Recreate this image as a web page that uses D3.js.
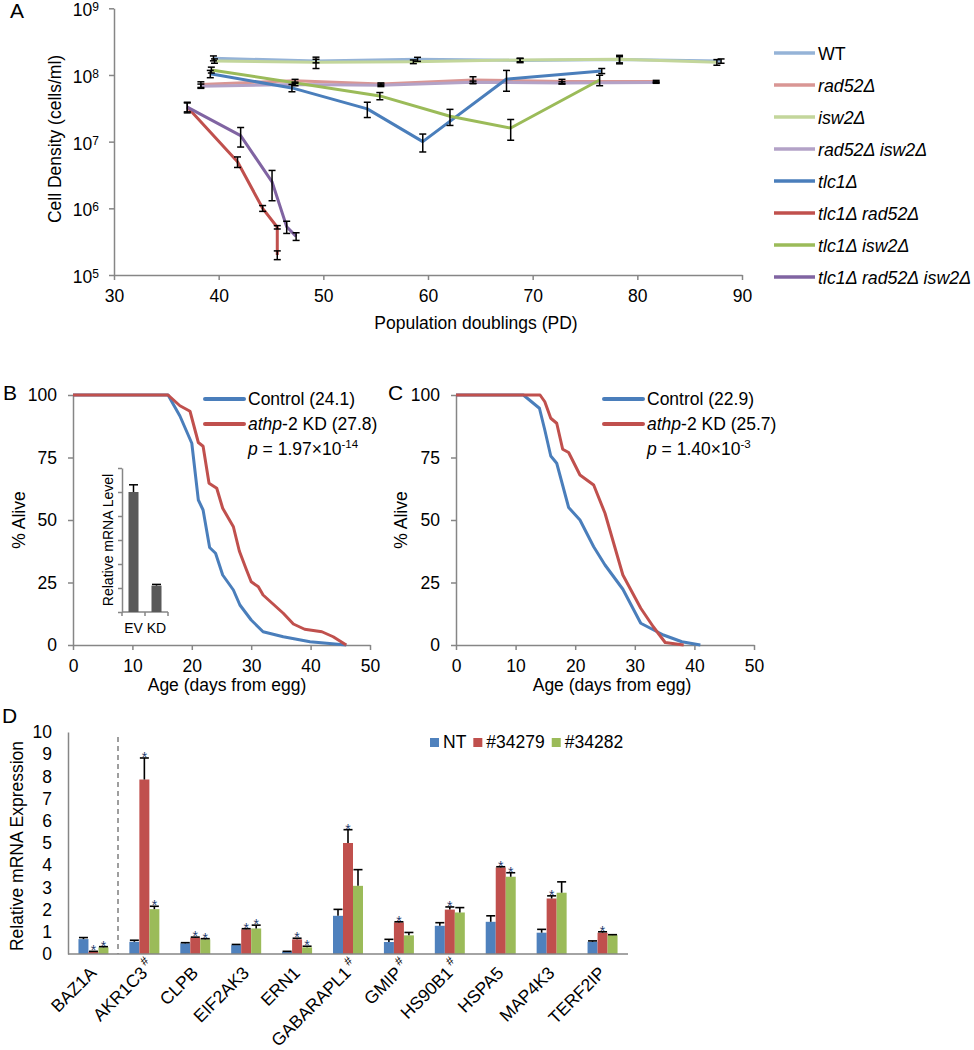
<!DOCTYPE html>
<html><head><meta charset="utf-8">
<script src="https://cdn.jsdelivr.net/npm/d3@7"></script>
<style>
body{margin:0;background:#fff}
svg{display:block}
text{font-family:"Liberation Sans",Arial,Helvetica,sans-serif;fill:#000}
</style>
</head><body>
<svg id="fig" width="974" height="1050"></svg>
<script>
// ================= DATA =================
// ---- Panel A: cell density vs population doublings ----
const strainsA = ["WT","rad52Δ","isw2Δ","rad52Δ isw2Δ","tlc1Δ","tlc1Δ rad52Δ","tlc1Δ isw2Δ","tlc1Δ rad52Δ isw2Δ"];
const pdTicksA = [30,40,50,60,70,80,90];
const densTicksA = [1e5,1e6,1e7,1e8,1e9];

const pdWT = [39.5,49.3,59.0,68.8,78.3,88.0];
const densWT = [1.78e8,1.62e8,1.72e8,1.65e8,1.70e8,1.62e8];
const errWT = [0.15e8,0.10e8,0.12e8,0.12e8,0.18e8,0.12e8];

const pdRad52 = [38.3,47.3,55.5,64.3,72.8,81.8];
const densRad52 = [7.2e7,8.2e7,7.3e7,8.4e7,8.0e7,8.0e7];
const errRad52 = [0.7e7,0.4e7,0.3e7,1.0e7,0.6e7,0.3e7];

const pdIsw2 = [39.6,49.3,58.6,68.8,78.3,87.6];
const densIsw2 = [1.62e8,1.55e8,1.58e8,1.68e8,1.72e8,1.55e8];
const errIsw2 = [0.12e8,0.30e8,0.10e8,0.10e8,0.25e8,0.15e8];

const pdRad52Isw2 = [38.3,47.3,55.5,64.3,72.8,81.8];
const densRad52Isw2 = [6.8e7,7.2e7,7.0e7,7.8e7,7.6e7,7.7e7];
const errRad52Isw2 = [0.5e7,0.3e7,0.3e7,0.3e7,0.3e7,0.2e7];

const pdTlc1 = [39.2,47.0,54.2,59.5,67.5,76.6];
const densTlc1 = [1.04e8,6.4e7,3.1e7,1.0e7,8.7e7,1.15e8];
const errTlc1 = [0.13e8,0.8e7,0.8e7,0.3e7,0.3e8,0.1e8];

const pdTlc1Rad52 = [37.0,41.8,44.2,45.6,45.6];
const densTlc1Rad52 = [3.3e7,5.0e6,1.0e6,5.2e5,2.0e5];
const errTlc1Rad52 = [0.6e7,0.9e6,0.1e6,0.3e5,0.3e5];

const pdTlc1Isw2 = [39.3,55.4,62.1,67.9,76.4];
const densTlc1Isw2 = [1.19e8,4.85e7,2.4e7,1.6e7,8.4e7];
const errTlc1Isw2 = [0.12e8,0.6e7,0.65e7,0.55e7,1.5e7];

const pdTriple = [37.0,42.1,45.1,46.5,47.4];
const densTriple = [3.3e7,1.23e7,2.5e6,5.3e5,3.8e5];
const errTriple = [0.5e7,0.4e7,1.2e6,1.1e5,0.5e5];

// ---- Panel B: survival ----
const daysCtrlB = [0,16,18,20,21.1,21.9,23,24,25.2,27,28.1,30,32,35.4,39.9,46];
const aliveCtrlB = [100,100,91.6,80.7,58,54,39,36.7,28,22,16,10,5.3,3.3,1.3,0];
const daysKdB = [0,16,18,19.7,21.1,21.9,22.9,24.2,25.2,27,28,29.1,30,31.2,32,35.4,37.1,39,41.9,43.8,46];
const aliveKdB = [100,100,95.7,93.5,81,79.5,64.7,62.7,54.7,47.3,37.6,30.7,25.3,23.3,20,12.7,8.4,6.3,5.3,3.3,0];
// inset
const insetCats = ["EV","KD"];
const insetVals = [1.0,0.22];
const insetErr = [0.06,0.01];
const insetTicks = [0,0.2,0.4,0.6,0.8,1.0,1.2];

// ---- Panel C: survival ----
const daysCtrlC = [0,11.3,14,14.9,15.9,16.9,18.9,20.8,23.1,25,28,31,34.8,37.9,41];
const aliveCtrlC = [100,100,94.7,86,75.6,72.7,55,50,39.3,32,22.3,8.7,4,1.3,0];
const daysKdC = [0,14.1,14.9,15.9,16.9,17.9,18.9,20.8,23.1,25,28,31,33.1,35.1,38.2];
const aliveKdC = [100,100,97.3,90.7,88.7,78.3,77,68,64,52.7,28,14.7,7.3,1,0];

const ageTicks = [0,10,20,30,40,50];
const aliveTicks = [0,25,50,75,100];

// ---- Panel D: relative mRNA expression ----
const genes = ["BAZ1A","AKR1C3","CLPB","EIF2AK3","ERN1","GABARAPL1","GMIP","HS90B1","HSPA5","MAP4K3","TERF2IP"];
const hashGene = [false,true,false,false,false,true,true,true,false,false,false];
const seriesD = ["NT","#34279","#34282"];
const valNT = [0.67,0.55,0.48,0.40,0.10,1.72,0.54,1.27,1.45,0.96,0.55];
const errNT = [0.07,0.07,0.03,0.03,0.02,0.29,0.12,0.14,0.27,0.15,0.04];
const val279 = [0.10,7.86,0.73,1.11,0.66,5.00,1.42,2.00,3.90,2.50,0.96];
const err279 = [0.02,0.97,0.03,0.03,0.05,0.60,0.03,0.12,0.03,0.12,0.04];
const val282 = [0.30,2.02,0.66,1.15,0.30,3.07,0.84,1.87,3.48,2.76,0.85];
const err282 = [0.03,0.13,0.03,0.15,0.05,0.73,0.13,0.22,0.18,0.49,0.02];
const starNT = [0,0,0,0,0,0,0,0,0,0,0];
const star279 = [1,1,1,1,1,1,1,1,1,1,1];
const star282 = [1,1,1,1,1,0,0,0,1,0,0];
const exprTicks = [0,1,2,3,4,5,6,7,8,9,10];

// ================= DRAWING =================
const svg = d3.select("#fig");
const AX = "#868686";
const FS = 17.5;
const FF = '"Liberation Sans",Arial,Helvetica,sans-serif';

function styleAxis(g, fs){
  g.attr("font-family", FF).attr("font-size", fs || FS);
  g.select(".domain").attr("stroke", AX).attr("stroke-width", 1.5);
  g.selectAll(".tick line").attr("stroke", AX).attr("stroke-width", 1.5);
  g.selectAll(".tick text").attr("fill", "#000");
}
function label(x, y, txt, opts){
  opts = opts || {};
  const t = svg.append("text").attr("x", x).attr("y", y)
    .attr("font-size", opts.fs || FS).attr("text-anchor", opts.anchor || "start").text(txt);
  if (opts.rot) t.attr("transform", `rotate(${opts.rot},${x},${y})`);
  return t;
}

// ---------- Panel A ----------
const colorsA = ["#95B3D7","#D99694","#C3D69B","#B3A2C7","#4A7EBB","#C0504D","#9BBB59","#8064A2"];
const pdA = [pdWT,pdRad52,pdIsw2,pdRad52Isw2,pdTlc1,pdTlc1Rad52,pdTlc1Isw2,pdTriple];
const densA = [densWT,densRad52,densIsw2,densRad52Isw2,densTlc1,densTlc1Rad52,densTlc1Isw2,densTriple];
const errA = [errWT,errRad52,errIsw2,errRad52Isw2,errTlc1,errTlc1Rad52,errTlc1Isw2,errTriple];

const xA = d3.scaleLinear().domain([30,90]).range([114,742]);
const yA = d3.scaleLog().domain([1e5,1e9]).range([275,8.3]);

svg.append("g").attr("transform","translate(0,275)")
  .call(d3.axisBottom(xA).tickValues(pdTicksA).tickSize(5).tickSizeOuter(0).tickPadding(10))
  .call(g=>styleAxis(g));
svg.append("g").attr("transform","translate(114,0)")
  .call(d3.axisLeft(yA).tickValues(densTicksA).tickSize(5).tickSizeOuter(0).tickFormat(()=>""))
  .call(g=>styleAxis(g));
densTicksA.forEach(v=>{
  const t = svg.append("text").attr("x",99).attr("y",yA(v)+8).attr("text-anchor","end").attr("font-size",FS);
  t.append("tspan").text("10");
  t.append("tspan").attr("font-size",12).attr("dy",-5).text(Math.round(Math.log10(v)));
});

const lineA = d3.line().x(d=>xA(d[0])).y(d=>yA(d[1]));
strainsA.forEach((s,i)=>{
  const pts = pdA[i].map((p,j)=>[p,densA[i][j]]);
  svg.append("path").attr("d",lineA(pts)).attr("fill","none")
    .attr("stroke",colorsA[i]).attr("stroke-width",3).attr("stroke-linejoin","round");
});
strainsA.forEach((s,i)=>{
  pdA[i].forEach((p,j)=>{
    const x = xA(p), y1 = yA(densA[i][j]+errA[i][j]), y2 = yA(Math.max(densA[i][j]-errA[i][j],1.01e5));
    const g = svg.append("g").attr("stroke","#000").attr("stroke-width",1.5);
    g.append("line").attr("x1",x).attr("x2",x).attr("y1",y1).attr("y2",y2);
    g.append("line").attr("x1",x-3.5).attr("x2",x+3.5).attr("y1",y1).attr("y2",y1);
    g.append("line").attr("x1",x-3.5).attr("x2",x+3.5).attr("y1",y2).attr("y2",y2);
  });
});
// legend A
strainsA.forEach((s,i)=>{
  const y = 53 + i*32;
  svg.append("line").attr("x1",774).attr("x2",815).attr("y1",y).attr("y2",y)
    .attr("stroke",colorsA[i]).attr("stroke-width",3.5);
  const t = label(818, y+6.5, s, {fs:17.8});
  if (i>0) t.attr("font-style","italic");
});
label(10, 18, "A", {fs:21});
label(55, 139, "Cell Density (cells/ml)", {anchor:"middle", rot:-90}).attr("dy","0.35em");
label(476, 329, "Population doublings (PD)", {anchor:"middle"});

// ---------- Panels B & C ----------
function survivalPanel(x0, x1, daysC, aliveC, daysK, aliveK, letter, letterX, legX, ctrlTxt, kdTxt, pMant, pExp, ylabX, titleX){
  const x = d3.scaleLinear().domain([0,50]).range([x0,x1]);
  const y = d3.scaleLinear().domain([0,100]).range([645,395]);
  svg.append("g").attr("transform","translate(0,645)")
    .call(d3.axisBottom(x).tickValues(ageTicks).tickSize(5).tickSizeOuter(0).tickPadding(9.5))
    .call(g=>styleAxis(g));
  svg.append("g").attr("transform",`translate(${x0},0)`)
    .call(d3.axisLeft(y).tickValues(aliveTicks).tickSize(5).tickSizeOuter(0).tickPadding(11))
    .call(g=>styleAxis(g));
  const ln = d3.line().x(d=>x(d[0])).y(d=>y(d[1]));
  svg.append("path").attr("d", ln(daysC.map((d,i)=>[d,aliveC[i]]))).attr("fill","none")
    .attr("stroke","#4A7EBB").attr("stroke-width",3).attr("stroke-linejoin","round");
  svg.append("path").attr("d", ln(daysK.map((d,i)=>[d,aliveK[i]]))).attr("fill","none")
    .attr("stroke","#C0504D").attr("stroke-width",3).attr("stroke-linejoin","round");
  // legend
  svg.append("line").attr("x1",legX).attr("x2",legX+39).attr("y1",399).attr("y2",399)
    .attr("stroke","#4A7EBB").attr("stroke-width",4).attr("stroke-linecap","round");
  svg.append("line").attr("x1",legX).attr("x2",legX+39).attr("y1",424).attr("y2",424)
    .attr("stroke","#C0504D").attr("stroke-width",4).attr("stroke-linecap","round");
  label(legX+43, 405, ctrlTxt);
  const t2 = svg.append("text").attr("x",legX+43).attr("y",430).attr("font-size",FS);
  t2.append("tspan").attr("font-style","italic").text("athp");
  t2.append("tspan").text("-2 KD " + kdTxt);
  const t3 = svg.append("text").attr("x",legX+43).attr("y",455).attr("font-size",FS);
  t3.append("tspan").attr("font-style","italic").text("p");
  t3.append("tspan").text(" = " + pMant + "×10");
  t3.append("tspan").attr("font-size",11.5).attr("dy",-7).text(pExp);
  label(letterX, 400, letter, {fs:21});
  label(ylabX, 520, "% Alive", {anchor:"middle", rot:-90}).attr("dy","0.35em");
  label(titleX, 691, "Age (days from egg)", {anchor:"middle"});
}
survivalPanel(73, 370, daysCtrlB, aliveCtrlB, daysKdB, aliveKdB, "B", 3, 205, "Control (24.1)", "(27.8)", "1.97", "-14", 19, 227);
survivalPanel(456, 754, daysCtrlC, aliveCtrlC, daysKdC, aliveKdC, "C", 388, 604, "Control (22.9)", "(25.7)", "1.40", "-3", 401, 612);

// inset in B
const xI = d3.scaleBand().domain(insetCats).range([122,168]).padding(0);
const yI = d3.scaleLinear().domain([0,1.2]).range([612,468]);
svg.append("g").attr("transform","translate(122,0)")
  .call(d3.axisLeft(yI).tickValues(insetTicks).tickSize(4).tickSizeOuter(0).tickFormat(()=>""))
  .call(g=>styleAxis(g,12));
svg.append("line").attr("x1",122).attr("x2",168).attr("y1",612).attr("y2",612).attr("stroke",AX).attr("stroke-width",1.5);
[122].concat(insetCats.map(c=>xI(c)+xI.bandwidth())).forEach(xx=>{
  svg.append("line").attr("x1",xx).attr("x2",xx).attr("y1",612).attr("y2",616).attr("stroke",AX).attr("stroke-width",1.5);
});
insetCats.forEach((c,i)=>{
  const cx = xI(c)+xI.bandwidth()/2;
  svg.append("rect").attr("x",cx-5).attr("width",10).attr("y",yI(insetVals[i])).attr("height",612-yI(insetVals[i])).attr("fill","#595959");
  const yt = yI(insetVals[i]+insetErr[i]);
  svg.append("line").attr("x1",cx).attr("x2",cx).attr("y1",yI(insetVals[i])).attr("y2",yt).attr("stroke","#000").attr("stroke-width",1.5);
  svg.append("line").attr("x1",cx-4.5).attr("x2",cx+4.5).attr("y1",yt).attr("y2",yt).attr("stroke","#000").attr("stroke-width",1.5);
  label(cx, 633, c, {fs:14, anchor:"middle"});
});
label(108, 540, "Relative mRNA Level", {fs:14, anchor:"middle", rot:-90}).attr("dy","0.35em");

// ---------- Panel D ----------
const colorsD = ["#4F81BD","#C0504D","#9BBB59"];
const valsD = [valNT,val279,val282];
const errsD = [errNT,err279,err282];
const starsD = [starNT,star279,star282];
const xD = d3.scaleBand().domain(genes).range([68,628]).padding(0);
const yD = d3.scaleLinear().domain([0,10]).range([954,732]);

svg.append("g").attr("transform","translate(68,0)")
  .call(d3.axisLeft(yD).tickValues(exprTicks).tickSize(0).tickSizeOuter(0).tickPadding(16))
  .call(g=>styleAxis(g));
// dashed separator between BAZ1A and the rest
svg.append("line").attr("x1",118).attr("x2",118).attr("y1",737).attr("y2",954)
  .attr("stroke","#7f7f7f").attr("stroke-width",1.5).attr("stroke-dasharray","5,4");

genes.forEach((gname,i)=>{
  const c = xD(gname)+xD.bandwidth()/2;
  seriesD.forEach((s,k)=>{
    const bx = c - 15 + k*10;
    const v = valsD[k][i], e = errsD[k][i];
    svg.append("rect").attr("x",bx).attr("width",10).attr("y",yD(v)).attr("height",954-yD(v)).attr("fill",colorsD[k]);
    const yt = yD(v+e);
    svg.append("line").attr("x1",bx+5).attr("x2",bx+5).attr("y1",yD(v)).attr("y2",yt).attr("stroke","#000").attr("stroke-width",1.6);
    svg.append("line").attr("x1",bx+0.5).attr("x2",bx+9.5).attr("y1",yt).attr("y2",yt).attr("stroke","#000").attr("stroke-width",1.6);
    if (starsD[k][i]) {
      svg.append("text").attr("x",bx+5).attr("y",yt+4).attr("text-anchor","middle")
        .attr("font-size",14).style("fill","#1F3A6E").text("*");
    }
  });
  // category label
  const ax = c + 4, ay = 974;
  svg.append("text").attr("x",ax).attr("y",ay).attr("text-anchor","end").attr("font-size",FS)
    .attr("transform",`rotate(-45,${ax},${ay})`).text(gname);
  if (hashGene[i]) {
    svg.append("text").attr("x",ax+3).attr("y",ay-8).attr("font-size",12)
      .attr("transform",`rotate(-45,${ax},${ay})`).text("#");
  }
});
svg.append("line").attr("x1",68).attr("x2",628).attr("y1",954).attr("y2",954).attr("stroke",AX).attr("stroke-width",1.5);

// legend D
let lx = 430;
seriesD.forEach((s,k)=>{
  svg.append("rect").attr("x",lx).attr("y",738).attr("width",9).attr("height",9).attr("fill",colorsD[k]);
  const t = label(lx+13, 748, s);
  lx = lx + 13 + t.node().getComputedTextLength() + 7;
});
label(2, 723, "D", {fs:21});
label(17, 846, "Relative mRNA Expression", {anchor:"middle", rot:-90}).attr("dy","0.35em");
</script>
</body></html>
